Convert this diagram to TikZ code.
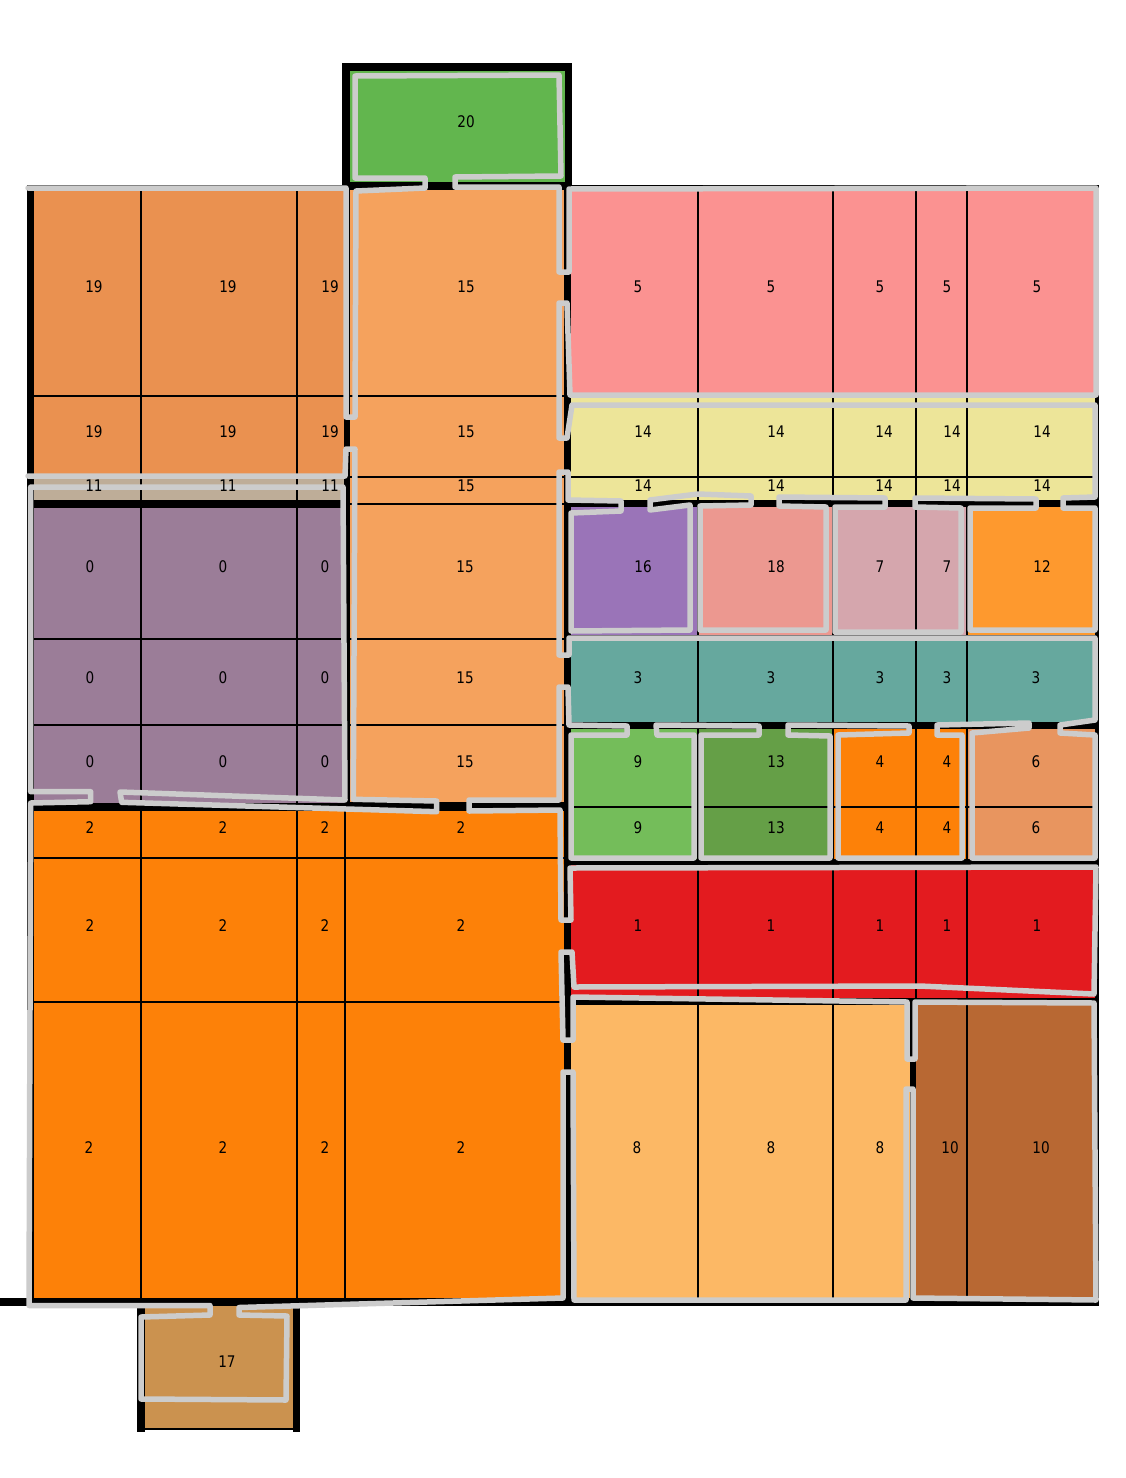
\documentclass[tikz,border=0pt]{standalone}
\usepackage{fontspec}
\newfontfamily\lblfont[FakeStretch=0.85]{DejaVu Sans}
\definecolor{c0}{HTML}{9B7D98}
\definecolor{c1}{HTML}{E31B1F}
\definecolor{c2}{HTML}{FD8108}
\definecolor{c3}{HTML}{66A89E}
\definecolor{c4}{HTML}{FD8108}
\definecolor{c5}{HTML}{FB9291}
\definecolor{c6}{HTML}{E8955F}
\definecolor{c7}{HTML}{D5A6AD}
\definecolor{c8}{HTML}{FCB865}
\definecolor{c9}{HTML}{74BD5A}
\definecolor{c10}{HTML}{B86833}
\definecolor{c11}{HTML}{BEAD98}
\definecolor{c12}{HTML}{FE992E}
\definecolor{c13}{HTML}{659F47}
\definecolor{c14}{HTML}{EDE599}
\definecolor{c15}{HTML}{F5A25D}
\definecolor{c16}{HTML}{9A74B8}
\definecolor{c17}{HTML}{CB924F}
\definecolor{c18}{HTML}{EC9890}
\definecolor{c19}{HTML}{EA9150}
\definecolor{c20}{HTML}{62B64E}
\definecolor{gry}{HTML}{CCCCCC}
\newcommand\cellrow[4]{\foreach \xa/\xb in {#4} \filldraw[cell, fill=#1] (\xa,#2) rectangle (\xb,#3);}
\begin{document}
\begin{tikzpicture}[x=1pt,y=-1pt,
  cell/.style={draw=black, line width=1.4pt},
  wall/.style={fill=black},
  outline/.style={draw=gry, line width=5.5pt, line join=round, line cap=round},
  lbl/.style={font={\lblfont\fontsize{16pt}{18pt}\selectfont}, inner sep=0pt, text=black}]
\useasboundingbox (0,0) rectangle (1125,1478);
\fill[white] (0,0) rectangle (1125,1478);
% ---- left block cells
\cellrow{c19}{188}{396}{33/141,141/297,297/345}
\cellrow{c19}{396}{477}{33/141,141/297,297/345}
\cellrow{c11}{477}{501}{33/141,141/297,297/345}
\cellrow{c0}{507}{639}{33/141,141/297,297/345}
\cellrow{c0}{639}{725}{33/141,141/297,297/345}
\cellrow{c0}{725}{805}{33/141,141/297,297/345}
\cellrow{c2}{810}{858}{33/141,141/297,297/345,345/565}
\cellrow{c2}{858}{1002}{33/141,141/297,297/345,345/565}
\cellrow{c2}{1002}{1300}{33/141,141/297,297/345,345/565}
\cellrow{c15}{188}{396}{349/565}
\cellrow{c15}{396}{477}{349/565}
\cellrow{c15}{477}{504}{349/565}
\cellrow{c15}{504}{639}{349/565}
\cellrow{c15}{639}{725}{349/565}
\cellrow{c15}{725}{803}{349/565}
% ---- right block cells
\cellrow{c5}{188}{395}{570/698,698/833,833/916,916/967,967/1096}
\cellrow{c14}{395}{477}{570/698,698/833,833/916,916/967,967/1096}
\cellrow{c14}{477}{501}{570/698,698/833,833/916,916/967,967/1096}
\cellrow{c16}{506}{636}{570/698}
\cellrow{c18}{506}{636}{698/833}
\cellrow{c7}{506}{636}{833/916,916/967}
\cellrow{c12}{506}{636}{967/1096}
\cellrow{c3}{636}{723}{570/698,698/833,833/916,916/967,967/1096}
\cellrow{c9}{728}{807}{570/698}
\cellrow{c9}{807}{860}{570/698}
\cellrow{c13}{728}{807}{698/833}
\cellrow{c13}{807}{860}{698/833}
\cellrow{c4}{728}{807}{833/916,916/967}
\cellrow{c4}{807}{860}{833/916,916/967}
\cellrow{c6}{728}{807}{967/1096}
\cellrow{c6}{807}{860}{967/1096}
\cellrow{c1}{864}{1000}{570/698,698/833,833/916,916/967,967/1096}
\cellrow{c8}{1004}{1300}{570/698,698/833,833/913}
\cellrow{c10}{1004}{1300}{913/967,967/1096}
% ---- rooms 20 and 17
\filldraw[cell, fill=c20] (349,70) rectangle (566,183);
\filldraw[cell, fill=c17] (141,1305) rectangle (296,1429);
% ---- walls
\fill[wall] (27,185) rectangle (1099,188);
\fill[wall] (27,186) rectangle (33,1306);
\fill[wall] (27,500) rectangle (345,507);
\fill[wall] (27,803) rectangle (566,810);
\fill[wall] (345,186) rectangle (349,806);
\fill[wall] (565,186) rectangle (571,1306);
\fill[wall] (0,1298) rectangle (1099,1306);
\fill[wall] (1096,185) rectangle (1099,1306);
\fill[wall] (565,501) rectangle (1099,507);
\fill[wall] (565,722) rectangle (1099,728);
\fill[wall] (565,859) rectangle (1099,864);
\fill[wall] (565,998) rectangle (1099,1004);
\fill[wall] (910,1000) rectangle (916,1306);
\fill[wall] (342,63) rectangle (572,70);
\fill[wall] (342,63) rectangle (349,190);
\fill[wall] (565,63) rectangle (572,190);
\fill[wall] (342,182) rectangle (572,190);
\fill[wall] (137,1302) rectangle (145,1432);
\fill[wall] (293,1302) rectangle (300,1432);
% ---- room outline
\draw[outline] (28,188) -- (346,188) -- (346,417) -- (355,417) -- (356,191) -- (425,188) -- (425,178) -- (355,178)
 -- (355,76) -- (559,75) -- (561,176) -- (455,177) -- (455,187) -- (559,187) -- (559,272) -- (569,272) -- (569,189)
 -- (1096,188) -- (1096,395) -- (570,395) -- (567,303) -- (559,303) -- (559,438) -- (567,438) -- (572,405)
 -- (1095,405) -- (1095,497) -- (1063,498) -- (1063,508) -- (1095,508) -- (1095,630) -- (970,630) -- (970,508)
 -- (1036,508) -- (1036,499) -- (915,498) -- (915,507) -- (961,508) -- (961,632) -- (835,632) -- (835,507)
 -- (885,507) -- (885,498) -- (779,497) -- (779,506) -- (826,507) -- (826,630) -- (700,630) -- (700,506)
 -- (751,505) -- (751,496) -- (698,494) -- (650,500) -- (650,510) -- (690,505) -- (690,630) -- (571,631)
 -- (571,513) -- (621,511) -- (621,501) -- (568,500) -- (568,472) -- (559,472) -- (559,655) -- (569,655)
 -- (569,638) -- (1095,638) -- (1095,720) -- (1060,725) -- (1060,733) -- (1095,735) -- (1095,858) -- (972,858)
 -- (972,733) -- (1029,728) -- (1029,723) -- (937,725) -- (937,735) -- (962,735) -- (962,858) -- (838,858)
 -- (838,735) -- (909,733) -- (909,726) -- (788,725) -- (788,735) -- (830,736) -- (830,858) -- (701,858)
 -- (701,735) -- (759,735) -- (759,726) -- (656,725) -- (657,735) -- (694,735) -- (694,858) -- (571,858)
 -- (571,735) -- (627,735) -- (627,726) -- (569,725) -- (568,687) -- (559,687) -- (559,800) -- (469,800)
 -- (469,811) -- (560,810) -- (561,920) -- (571,920) -- (570,868) -- (1096,867) -- (1094,994) -- (920,986)
 -- (574,987) -- (572,952) -- (561,952) -- (563,1040) -- (573,1040) -- (573,997) -- (907,1002) -- (907,1059)
 -- (915,1059) -- (915,1002) -- (1094,1003) -- (1096,1300) -- (913,1298) -- (913,1089) -- (906,1089)
 -- (906,1300) -- (574,1300) -- (573,1072) -- (563,1072) -- (563,1298) -- (239,1307.5) -- (239,1315)
 -- (287,1316) -- (286,1400) -- (141,1399) -- (141,1317) -- (210,1315) -- (210,1305.5) -- (29,1305.5)
 -- (30.7,803) -- (90.7,801.7) -- (90.7,791.7) -- (30.7,791.7) -- (30.7,487) -- (343,487) -- (345,800)
 -- (120,792) -- (121.7,802.3) -- (436.7,811.7) -- (436.7,801) -- (353.3,799.3) -- (355,449) -- (346,449)
 -- (345,476) -- (28,476);
% ---- labels
\foreach \x/\y/\t [count=\i] in {
 466/122/20,
 94/287/19, 228/287/19, 330/287/19, 466/287/15, 638/287/5, 771/287/5, 880/287/5, 947/287/5, 1037/287/5,
 94/432/19, 228/432/19, 330/432/19, 466/432/15, 643/432/14, 776/432/14, 884/432/14, 952/432/14, 1042/432/14,
 94/486/11, 228/486/11, 330/486/11, 466/486/15, 643/486/14, 776/486/14, 884/486/14, 952/486/14, 1042/486/14,
 90/567/0, 223/567/0, 325/567/0, 465/567/15, 643/567/16, 776/567/18, 880/567/7, 947/567/7, 1042/567/12,
 90/678/0, 223/678/0, 325/678/0, 465/678/15, 638/678/3, 771/678/3, 880/678/3, 947/678/3, 1036/678/3,
 90/762/0, 223/762/0, 325/762/0, 465/762/15, 638/762/9, 776/762/13, 880/762/4, 947/762/4, 1036/762/6,
 90/828/2, 223/828/2, 325/828/2, 461/828/2, 638/828/9, 776/828/13, 880/828/4, 947/828/4, 1036/828/6,
 90/926/2, 223/926/2, 325/926/2, 461/926/2, 638/926/1, 771/926/1, 880/926/1, 947/926/1, 1037/926/1,
 89/1148/2, 223/1148/2, 325/1148/2, 461/1148/2, 637/1148/8, 771/1148/8, 880/1148/8, 950/1148/10, 1041/1148/10,
 227/1362/17}
 \node[lbl] (lab\i) at (\x,\y) {\t};
\end{tikzpicture}
\end{document}
